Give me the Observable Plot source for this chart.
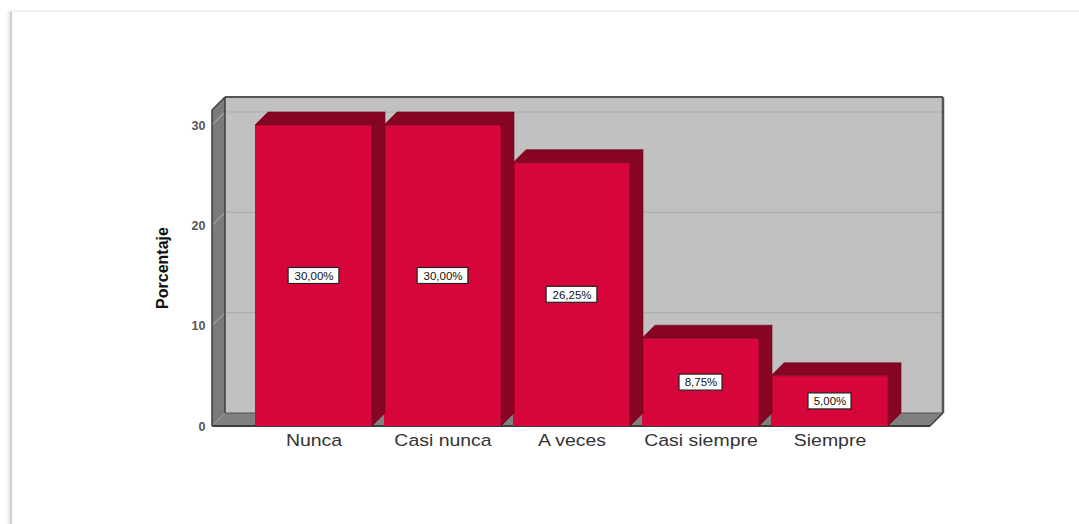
<!DOCTYPE html>
<html><head><meta charset="utf-8">
<script src="https://cdn.jsdelivr.net/npm/d3@7"></script>
<script src="https://cdn.jsdelivr.net/npm/@observablehq/plot@0.6"></script>
<style>
html,body{margin:0;padding:0;background:#fff;width:1079px;height:524px;overflow:hidden;}
#card{position:absolute;left:10px;top:11px;width:1100px;height:600px;border-left:2px solid #cdcdcd;border-top:1px solid #ececec;box-shadow:-2px 0 3px rgba(0,0,0,0.10);}
#chart{position:absolute;left:0;top:0;}
</style></head>
<body><div id="card"></div><div id="chart"></div>
<script>
const categories = ["Nunca", "Casi nunca", "A veces", "Casi siempre", "Siempre"];
const values = [30, 30, 26.25, 8.75, 5];
const valueLabels = ["30,00%", "30,00%", "26,25%", "8,75%", "5,00%"];
const yTicks = [0, 10, 20, 30];
const yTitle = "Porcentaje";
const wallTop = 31.5;
const depth = 13;

const data = categories.map((c, i) => ({category: c, value: values[i], label: valueLabels[i], mid: values[i] / 2}));

const FRONT = "#d7063a", DARK = "#870522";

function bw(x) {
  return typeof x.bandwidth === "function" ? x.bandwidth() : 117;
}

function walls(index, scales, vals, dims) {
  const {y} = scales;
  const g = d3.create("svg:g");
  const L = dims.marginLeft, R = dims.width - dims.marginRight, d = depth;
  const y0 = y(0), yt = y(wallTop);
  g.append("rect").attr("x", L + d).attr("y", yt - d).attr("width", R - L).attr("height", y0 - yt).attr("fill", "#c1c1c1");
  g.append("polygon").attr("points", [[L, yt], [L + d, yt - d], [L + d, y0 - d], [L, y0]].join(" ")).attr("fill", "#7b7b7b");
  g.append("polygon").attr("points", [[L, y0], [L + d, y0 - d], [R + d, y0 - d], [R, y0]].join(" ")).attr("fill", "#808080");
  for (const t of yTicks.filter(t => t > 0)) {
    g.append("line").attr("x1", L + d).attr("x2", R + d).attr("y1", y(t) - d).attr("y2", y(t) - d).attr("stroke", "#adadad").attr("stroke-width", 1.2);
    g.append("line").attr("x1", L).attr("x2", L + d).attr("y1", y(t)).attr("y2", y(t) - d).attr("stroke", "#b5b5b5").attr("stroke-width", 1);
  }
  const dk = (x1, y1, x2, y2, w = 1.5, c = "#3c3c3c") =>
    g.append("line").attr("x1", x1).attr("y1", y1).attr("x2", x2).attr("y2", y2).attr("stroke", c).attr("stroke-width", w);
  dk(L + d, yt - d, R + d, yt - d, 2, "#555");
  dk(R + d, yt - d, R + d, y0 - d, 2.5, "#555");
  dk(R + d, y0 - d, R, y0, 1.5);
  dk(L, y0, R, y0, 2);
  dk(L, yt, L, y0, 1.5);
  dk(L, yt, L + d, yt - d, 1.5);
  dk(L + d, yt - d, L + d, y0 - d, 1.5);
  dk(L + d, y0 - d, R + d, y0 - d, 1, "#555");
  return g.node();
}

function bars3d(index, scales, vals, dims) {
  const {x, y} = scales;
  const g = d3.create("svg:g");
  const d = depth, w = bw(x), y0 = y(0);
  for (const row of data) {
    const x0 = x(row.category), x1 = x0 + w, yv = y(row.value);
    g.append("polygon").attr("points", [[x0, yv], [x0 + d, yv - d], [x1 + d, yv - d], [x1, yv]].join(" ")).attr("fill", DARK).attr("stroke", "#6a0419").attr("stroke-width", 0.6);
    g.append("polygon").attr("points", [[x1, yv], [x1 + d, yv - d], [x1 + d, y0 - d], [x1, y0]].join(" ")).attr("fill", DARK).attr("stroke", "#6a0419").attr("stroke-width", 0.6);
  }
  return g.node();
}

function labelBoxes(index, scales, vals, dims) {
  const {x, y} = scales;
  const g = d3.create("svg:g");
  const w = bw(x);
  for (const row of data) {
    const cx = x(row.category) + w / 2, cy = y(row.mid);
    const bwid = row.label.length * 7.8 + 4;
    g.append("rect").attr("x", cx - bwid / 2).attr("y", cy - 8).attr("width", bwid).attr("height", 16)
      .attr("fill", "#fff").attr("stroke", "#222").attr("stroke-width", 1.2);
  }
  return g.node();
}

function title(index, scales, vals, dims) {
  const {y} = scales;
  const g = d3.create("svg:g");
  const cy = (y(0) + y(wallTop)) / 2;
  g.append("text").attr("transform", `translate(168,${cy}) rotate(-90)`).attr("text-anchor", "middle")
    .attr("font-family", "Liberation Sans, Arial, sans-serif").attr("font-weight", "bold").attr("font-size", 16)
    .attr("fill", "#111").text(yTitle);
  return g.node();
}

const chart = Plot.plot({
  width: 1079,
  height: 524,
  marginLeft: 212,
  marginRight: 149,
  marginTop: 125,
  marginBottom: 98,
  style: {background: "transparent", fontFamily: "Liberation Sans, Arial, sans-serif", overflow: "visible"},
  x: {domain: categories, paddingInner: 0.0965, paddingOuter: 0.32, label: null},
  y: {domain: [0, 30], label: null},
  marks: [
    walls,
    Plot.barY(data, {x: "category", y: "value", fill: FRONT}),
    bars3d,
    labelBoxes,
    Plot.text(data, {x: "category", y: "mid", text: "label", fontSize: 11.5, fill: "#111"}),
    Plot.axisY({ticks: yTicks, tickSize: 0, tickPadding: 7, fontSize: 12.5, fontWeight: "bold", color: "#555", label: null}),
    Plot.axisX({tickSize: 0, tickPadding: 8, fontSize: 16.5, color: "#333", label: null}),
    title
  ]
});
d3.select(chart).selectAll('g[aria-label="x-axis tick label"] text').each(function () {
  const t = this.getAttribute("transform") || "";
  this.setAttribute("transform", t + " scale(1.18,1)");
});
document.getElementById("chart").appendChild(chart);
</script>
</body></html>
